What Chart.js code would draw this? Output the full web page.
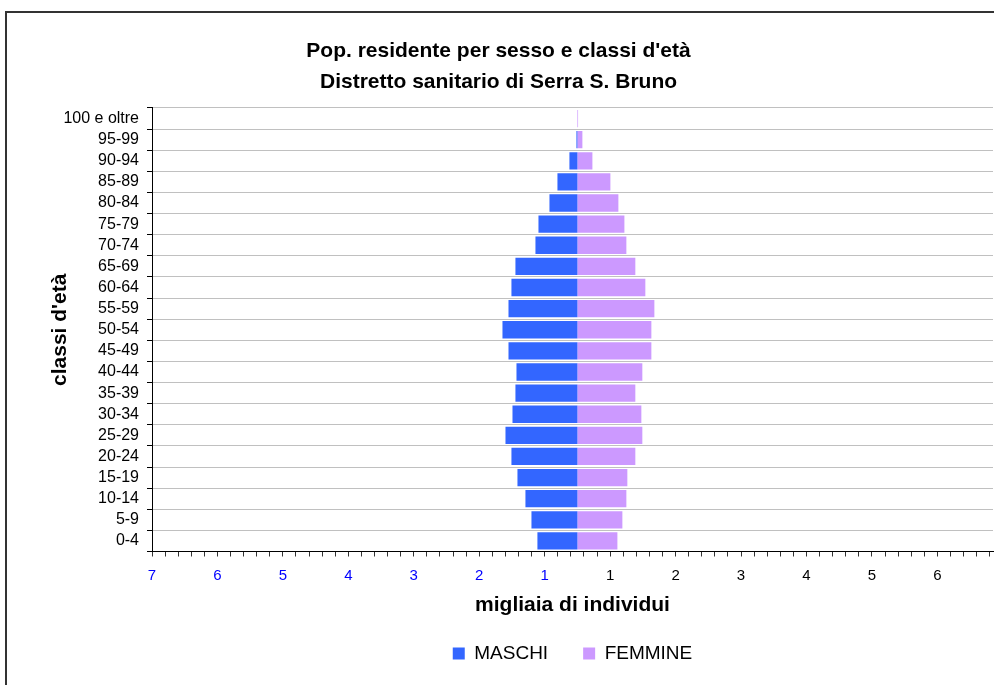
<!DOCTYPE html>
<html>
<head>
<meta charset="utf-8">
<script src="https://cdn.jsdelivr.net/npm/chart.js@4"></script>
<style>
  body{margin:0;background:#fff;}
  #wrap{position:relative;width:994px;height:685px;overflow:hidden;}
  #frame{position:absolute;left:5px;top:11px;width:1200px;height:900px;border-top:2px solid #333;border-left:2px solid #333;}
  canvas{position:absolute;left:0;top:0;}
</style>
</head>
<body>
<div id="wrap">
  <div id="frame"></div>
  <canvas id="pyramid" width="994" height="685"></canvas>
</div>
<script>
// classi d'età, dal basso verso l'alto
const classi = ['0-4','5-9','10-14','15-19','20-24','25-29','30-34','35-39','40-44','45-49','50-54','55-59','60-64','65-69','70-74','75-79','80-84','85-89','90-94','95-99','100 e oltre'];
// migliaia di individui
const maschi  = [0.611,0.702,0.794,0.916,1.008,1.099,0.992,0.947,0.931,1.053,1.145,1.053,1.008,0.947,0.641,0.595,0.427,0.305,0.122,0.015,0.0];
const femmine = [0.611,0.687,0.748,0.763,0.885,0.992,0.977,0.885,0.992,1.130,1.130,1.176,1.038,0.885,0.748,0.718,0.626,0.504,0.229,0.076,0.01];
// etichette asse x: a sinistra (maschi) e a destra (femmine)
const tickSx = [7,6,5,4,3,2,1];
const tickDx = [1,2,3,4,5,6];

const FONT = "'Liberation Sans', Arial, sans-serif";
const BLU = '#3366FF', LILLA = '#CC99FF';

// posizioni delle etichette sull'asse (spostate di mezza unità come nell'originale)
const labelPos = {};
tickSx.forEach((n)=>{ labelPos[(-(n-0.5)).toFixed(1)] = n; });
tickDx.forEach((n)=>{ labelPos[(n-0.5).toFixed(1)] = n; });

const ctx = document.getElementById('pyramid').getContext('2d');
new Chart(ctx,{
  type:'bar',
  data:{
    labels:classi,
    datasets:[
      {label:'MASCHI',data:maschi.map(v=>-v),backgroundColor:BLU,borderWidth:0,barPercentage:0.82,categoryPercentage:1},
      {label:'FEMMINE',data:femmine,backgroundColor:LILLA,borderWidth:0,barPercentage:0.82,categoryPercentage:1}
    ]
  },
  options:{
    indexAxis:'y',
    responsive:false,
    animation:false,
    devicePixelRatio:1,
    layout:{padding:{left:4,right:1,top:25,bottom:12}},
    plugins:{
      title:{
        display:true,
        text:["Pop. residente per sesso e classi d'età",'Distretto sanitario di Serra S. Bruno'],
        color:'#000',
        font:{family:FONT,size:21,weight:'bold',lineHeight:1.476},
        padding:{top:11,bottom:10}
      },
      legend:{
        position:'bottom',
        fullSize:false,
        labels:{color:'#000',font:{family:FONT,size:19},boxWidth:12,boxHeight:12,padding:35}
      },
      tooltip:{enabled:false}
    },
    scales:{
      x:{
        type:'linear',
        stacked:true,
        min:-6.5,
        max:6.35,
        afterBuildTicks:(s)=>{
          const t=[];
          for(let i=0;i<=64;i++) t.push({value:+(-6.5+i*0.2).toFixed(1)});
          s.ticks=t;
        },
        afterFit:(s)=>{ s.height=57.5; s.paddingLeft=0; s.paddingRight=0; },
        ticks:{
          autoSkip:false,
          maxRotation:0,
          padding:10,
          font:{family:FONT,size:15},
          color:(c)=> c.tick && c.tick.value<0 ? '#0000FF' : '#000',
          callback:(v)=>{ const k=(+v).toFixed(1); return labelPos[k]!==undefined ? String(labelPos[k]) : ''; }
        },
        grid:{drawOnChartArea:false,tickLength:5,tickColor:'#333',lineWidth:1},
        border:{display:true,color:'#000',width:1},
        title:{display:true,text:'migliaia di individui',color:'#000',font:{family:FONT,size:21,weight:'bold'},padding:{top:0,bottom:-9}}
      },
      y:{
        stacked:true,
        reverse:true,
        afterFit:(s)=>{ s.width=148; },
        ticks:{autoSkip:false,font:{family:FONT,size:16},color:'#000',padding:8},
        grid:{color:'#c0c0c0',tickColor:'#000',tickLength:5,offset:true},
        border:{display:true,color:'#000',width:1},
        title:{display:true,text:"classi d'età",color:'#000',font:{family:FONT,size:21,weight:'bold'},padding:{top:44,bottom:0}}
      }
    }
  }
});
</script>
</body>
</html>
